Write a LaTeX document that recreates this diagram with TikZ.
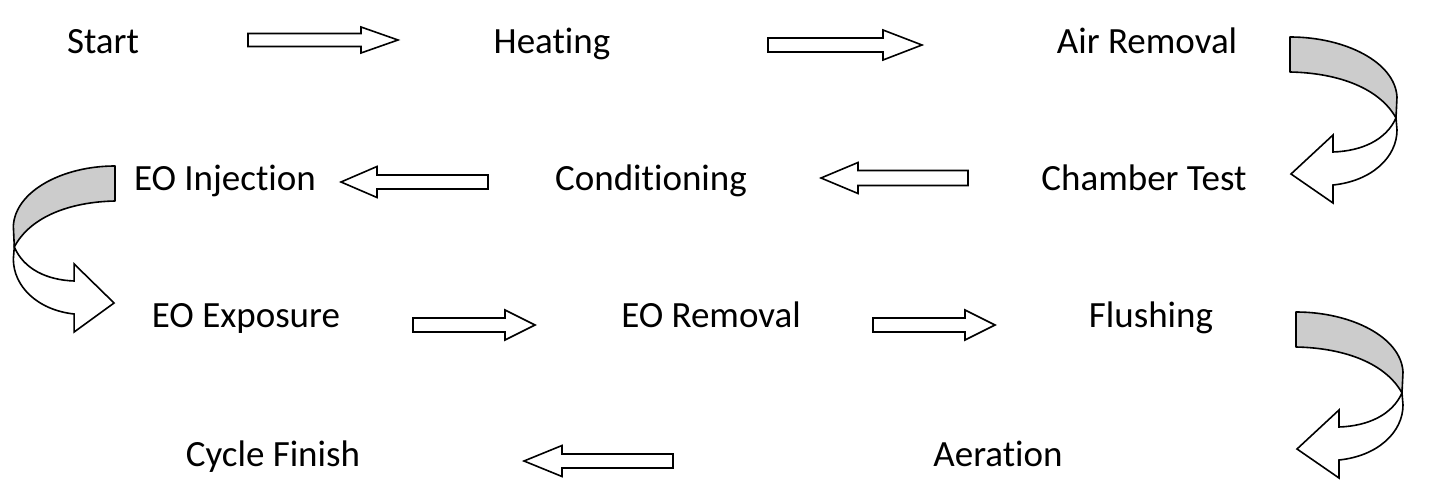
\documentclass[tikz,border=0pt]{standalone}
\usepackage{fontspec}
\setmainfont{Carlito}[Ligatures=NoCommon]
\begin{document}
\begin{tikzpicture}[x=1pt,y=-1pt,
  lbl/.style={anchor=base,inner sep=0pt,font=\fontsize{37}{44}\selectfont},
  blk/.style={draw=black,line width=1.6pt,fill=white,line join=miter},
  band/.style={draw=black,line width=1.6pt,fill=gray!40,line join=round},
  front/.style={draw=black,line width=1.6pt,fill=white,line join=miter}]
\useasboundingbox[fill=white] (0,0) rectangle (1436,494);
% labels
\node[lbl] (start) at (103,54) {Start};
\node[lbl] (heat)  at (552,54) {Heating};
\node[lbl] (air)   at (1147,54) {Air Removal};
\node[lbl] (inj)   at (225,191) {EO Injection};
\node[lbl] (cond)  at (651,191) {Conditioning};
\node[lbl] (cham)  at (1144,191) {Chamber Test};
\node[lbl] (expo)  at (246,328) {EO Exposure};
\node[lbl] (rem)   at (711,328) {EO Removal};
\node[lbl] (flush) at (1151,328) {Flushing};
\node[lbl] (fin)   at (273,466) {Cycle Finish};
\node[lbl] (aer)   at (998,466) {Aeration};
% block arrow: #1 tail x, #2 head base x, #3 tip x, #4 y, #5 half shaft, #6 half head
\newcommand\blockarr[6]{%
  \draw[blk] (#1,#4-#5) -- (#2,#4-#5) -- (#2,#4-#6) -- (#3,#4) -- (#2,#4+#6) -- (#2,#4+#5) -- (#1,#4+#5) -- cycle;}
\blockarr{248}{361}{398}{40}{6.5}{13}
\blockarr{768}{883}{922}{45}{7}{15}
\blockarr{968}{858}{821}{178}{7.5}{15.5}
\blockarr{488}{377}{341}{182}{7}{15.5}
\blockarr{413}{505}{535}{325}{7}{15}
\blockarr{873}{965}{995}{325}{7}{15}
\blockarr{673}{562}{524}{461}{7}{15.5}
% curved ribbon arrow in local coordinates
\newcommand\ribbonarr{%
  \draw[front] (106,81) .. controls (96,103) and (72,114) .. (43,115) -- (43,98) -- (1,137) -- (43,166) -- (43,148)
     .. controls (82,144) and (107,120) .. (107,93) -- cycle;
  \draw[band] (0,0) .. controls (55,0) and (105,25) .. (107,60) -- (106,81)
     .. controls (90,52) and (50,36) .. (0,35) -- cycle;}
\begin{scope}[shift={(1290,37)}]\ribbonarr\end{scope}
\begin{scope}[shift={(1296,312)}]\ribbonarr\end{scope}
\begin{scope}[shift={(115,166)},xscale=-0.95]\ribbonarr\end{scope}
\end{tikzpicture}
\end{document}
